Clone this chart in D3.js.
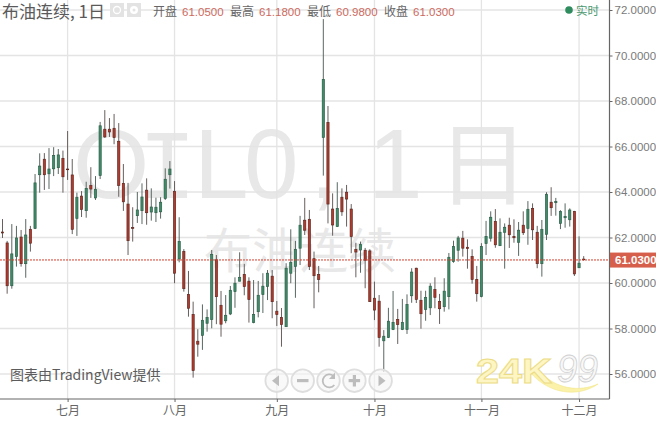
<!DOCTYPE html>
<html><head><meta charset="utf-8">
<style>
html,body{margin:0;padding:0;background:#fff;overflow:hidden}
svg{display:block}
text{font-family:"Liberation Sans","Noto Sans CJK SC",sans-serif}
</style>
<script src="https://cdnjs.cloudflare.com/ajax/libs/d3/7.8.5/d3.min.js"></script>
</head><body>
<svg id="c" width="656" height="421"></svg>
<script>
const opens=[62.24,61.76,59.88,61.16,62.02,60.85,62.36,62.40,64.76,65.44,64.80,65.02,65.07,65.48,65.01,64.75,62.84,63.82,63.18,64.29,63.74,64.72,66.76,66.76,66.80,66.23,64.38,63.47,62.44,62.96,63.18,64.08,63.12,63.09,63.13,63.71,64.76,64.03,61.06,61.39,59.50,58.62,57.44,57.70,58.23,58.40,61.02,59.02,58.34,58.64,59.62,60.08,60.38,60.08,58.26,58.74,59.49,59.84,60.30,58.76,58.49,58.08,60.43,60.73,61.53,62.76,62.80,61.07,60.38,66.40,67.06,63.25,62.48,63.77,63.99,63.25,61.48,61.45,61.44,61.41,59.33,59.20,57.46,57.60,57.95,58.40,57.95,57.95,59.44,60.65,59.24,58.84,58.91,59.72,59.19,58.96,59.40,60.94,61.44,61.97,61.57,61.17,60.16,59.40,61.73,61.97,62.71,61.64,62.23,62.54,62.05,61.79,62.54,62.40,63.28,62.23,60.85,62.14,63.55,63.53,62.62,62.87,62.78,63.15,60.67,61.05];
const closes=[62.20,59.88,61.28,61.98,60.85,62.11,61.75,64.40,65.14,64.76,65.01,65.61,65.63,64.67,64.98,62.36,63.77,63.23,64.16,64.13,64.12,66.91,66.42,66.64,66.39,64.29,63.57,61.86,62.40,63.21,63.78,63.09,63.34,63.33,63.55,64.56,65.01,60.43,61.83,59.75,58.89,56.15,57.31,58.36,58.49,61.26,59.40,58.19,58.58,59.68,59.99,60.25,59.84,59.27,58.62,59.46,59.86,60.43,59.18,58.61,58.17,60.65,60.91,61.48,62.54,62.32,60.72,60.32,60.15,68.95,63.47,62.55,63.28,63.13,63.69,62.04,61.36,61.70,61.00,59.18,58.81,57.60,57.66,58.32,58.27,58.17,58.27,59.06,60.48,59.28,58.65,59.37,59.86,59.37,58.87,59.64,61.13,61.61,61.98,61.53,61.51,60.15,59.53,61.61,62.05,62.89,61.68,62.23,62.45,62.12,61.99,62.32,62.21,63.24,62.34,60.85,62.36,63.90,63.31,63.59,63.15,62.93,63.21,60.40,60.87,61.03];
const highs=[62.81,61.85,62.59,62.51,62.33,62.81,62.51,64.79,65.70,65.71,65.93,65.97,65.89,65.82,66.68,65.45,63.97,64.04,64.45,65.09,64.70,67.08,67.60,67.25,67.43,67.03,65.23,64.40,63.33,64.00,64.38,64.60,64.16,63.75,63.77,65.04,65.36,64.48,62.89,61.49,60.53,59.18,57.97,59.06,58.84,61.45,61.23,59.65,59.47,59.87,60.25,61.35,60.84,60.25,60.13,60.09,60.43,60.57,60.57,59.21,58.90,60.87,62.36,61.85,62.95,63.74,63.21,61.38,60.75,71.60,67.78,63.94,64.43,64.16,64.31,63.47,61.77,61.82,61.54,61.48,60.06,59.47,57.93,58.91,59.65,58.86,59.30,59.50,60.65,60.67,59.66,59.66,59.99,60.25,59.52,60.21,61.32,61.86,62.07,62.29,61.92,61.48,60.75,61.75,62.73,63.15,63.25,62.84,62.62,62.87,62.80,62.68,63.15,63.60,63.50,62.51,62.77,63.99,64.21,63.74,63.20,63.50,63.28,63.17,62.05,61.18];
const lows=[61.98,59.53,59.75,60.72,60.72,60.23,61.38,62.37,63.97,64.09,64.13,64.70,64.79,63.97,64.53,62.15,62.07,62.90,62.87,63.74,63.65,64.57,66.38,66.42,66.10,63.79,63.17,61.23,61.82,62.64,62.59,62.56,62.74,62.68,62.83,63.65,64.15,59.99,60.91,59.62,58.52,55.84,56.76,57.06,57.86,58.01,58.19,57.64,58.23,58.59,58.91,60.07,59.46,58.26,58.23,58.49,58.68,59.25,58.45,58.11,57.20,58.07,59.99,59.35,60.79,62.11,60.57,58.89,59.59,64.72,62.62,62.08,62.46,62.95,62.48,61.31,60.25,60.45,59.77,59.17,58.37,57.20,56.10,57.58,57.93,57.32,57.93,57.76,59.13,59.12,57.99,58.34,58.59,58.89,58.20,58.74,58.84,60.89,60.94,61.16,60.63,59.97,59.18,59.37,61.23,61.82,61.55,61.63,60.63,61.54,61.77,61.19,62.11,61.68,61.89,60.65,60.28,61.89,62.95,62.96,62.37,62.43,62.48,60.31,60.66,60.98];
const priceTicks=[56,58,60,62,64,66,68,70,72];
const monthLabels=["七月","八月","九月","十月","十一月","十二月"];
const monthBars=[14,37,59,80,103,124];
const lastPrice=61.03;
const headerItems=[["开盘","61.0500"],["最高","61.1800"],["最低","60.9800"],["收盘","61.0300"]];

const svg=d3.select("#c");
const W=609.5,H=399;
const x=d3.scaleLinear().domain([0,opens.length-1]).range([2.5,583.7]);
const y=d3.scaleLinear().domain([56,72]).range([374,10]);
const CJK='"Noto Sans CJK SC","Liberation Sans",sans-serif';

// watermark
const wm=(t,px,fs,fam,py)=>svg.append("text").attr("x",px).attr("y",py).attr("font-size",fs).attr("fill","#e8e8e8").style("font-family",fam).text(t);
wm("O",73,98,'"Liberation Sans"',198);
wm("I",138,98,'"Liberation Mono"',198);
wm("L",194,98,'"Liberation Sans"',198);
wm("0",244,98,'"Liberation Sans"',198);
wm(",",310,98,'"Liberation Sans"',198);
wm("1",368,98,'"Liberation Sans"',198);
wm("日",437,92,CJK,198);
wm("布油连续",204,48,CJK,268);

// grid
const grid=svg.append("g").attr("stroke","#e4e4e4").attr("stroke-width",1.3);
grid.selectAll("line.h").data(priceTicks).join("line").attr("class","h")
  .attr("x1",0).attr("x2",W).attr("y1",d=>y(d)).attr("y2",d=>y(d));
grid.selectAll("line.v").data(monthBars).join("line").attr("class","v")
  .attr("x1",d=>x(d)).attr("x2",d=>x(d)).attr("y1",0).attr("y2",H);

// candles
const idx=d3.range(opens.length);
const color=i=>closes[i]>=opens[i];
const g=svg.append("g");
g.selectAll("line").data(idx).join("line")
  .attr("x1",i=>x(i)).attr("x2",i=>x(i)).attr("y1",i=>y(highs[i])).attr("y2",i=>y(lows[i]))
  .attr("stroke",i=>color(i)?"#50605a":"#5f5654").attr("stroke-width",0.95);
g.selectAll("rect").data(idx).join("rect")
  .attr("x",i=>x(i)-1.1).attr("width",2.2)
  .attr("y",i=>y(Math.max(opens[i],closes[i])))
  .attr("height",i=>Math.max(0.6,Math.abs(y(opens[i])-y(closes[i]))))
  .attr("fill",i=>color(i)?"#3f8c68":"#b5392c")
  .attr("stroke",i=>color(i)?"#2f5f4a":"#5e2a22").attr("stroke-width",0.7);

// last price line
svg.append("line").attr("x1",0).attr("x2",W).attr("y1",y(lastPrice)+0.4).attr("y2",y(lastPrice)+0.4)
  .attr("stroke","#d0402f").attr("stroke-width",1).attr("stroke-dasharray","2,1");

// axes
const yAxis=d3.axisRight(y).tickValues(priceTicks).tickFormat(d3.format(".4f")).tickSize(3).tickPadding(2);
const ya=svg.append("g").attr("transform",`translate(${W},0)`).call(yAxis);
ya.select(".domain").remove();
ya.selectAll("line").attr("stroke","#666");
ya.selectAll("text").attr("fill","#7a7a7a").attr("font-size",11.5).style("font-family",'"Liberation Sans",sans-serif');
const xAxis=d3.axisBottom(x).tickValues(monthBars).tickFormat((d,i)=>monthLabels[i]).tickSize(3).tickPadding(4);
const xa=svg.append("g").attr("transform",`translate(0,${H})`).call(xAxis);
xa.select(".domain").remove();
xa.selectAll("line").attr("stroke","#666");
xa.selectAll("text").attr("fill","#666").attr("font-size",12).style("font-family",CJK);
svg.append("line").attr("x1",0).attr("x2",W).attr("y1",H).attr("y2",H).attr("stroke","#666").attr("stroke-width",1.2);
svg.append("line").attr("x1",W).attr("x2",W).attr("y1",0).attr("y2",H).attr("stroke","#666").attr("stroke-width",1.2);

// price tag
svg.append("rect").attr("x",W+0.5).attr("y",y(lastPrice)-7).attr("width",656-W).attr("height",15).attr("fill","#d65f4c");
svg.append("text").attr("x",W+5.5).attr("y",y(lastPrice)+4.6).attr("fill","#fff").attr("font-size",11.5).attr("font-weight","bold")
  .text(d3.format(".4f")(lastPrice));

// header
svg.append("text").attr("x",2).attr("y",18).attr("font-size",17).attr("fill","#5a5a5a").style("font-family",CJK).text("布油连续, 1日");
[110,127].forEach(a=>svg.append("rect").attr("x",a).attr("y",3).attr("width",14).attr("height",14).attr("fill","#e3e3e3"));
svg.append("circle").attr("cx",117).attr("cy",10).attr("r",3.5).attr("fill","none").attr("stroke","#fff").attr("stroke-width",1.3);
svg.append("circle").attr("cx",134).attr("cy",10).attr("r",4).attr("fill","#fff");
svg.append("circle").attr("cx",134).attr("cy",10).attr("r",1.5).attr("fill","#e3e3e3");
const hx=d3.scaleLinear().domain([0,3]).range([153,384]);
headerItems.forEach((d,i)=>{
  svg.append("text").attr("x",hx(i)).attr("y",16).attr("font-size",12).attr("fill","#666").style("font-family",CJK).text(d[0]);
  svg.append("text").attr("x",hx(i)+29).attr("y",16).attr("font-size",11.5).attr("fill","#cc6a5e").text(d[1]);
});
svg.append("circle").attr("cx",569).attr("cy",10).attr("r",3.8).attr("fill","#2f8c5e");
svg.append("text").attr("x",576).attr("y",14.5).attr("font-size",11.5).attr("fill","#4b9a72").style("font-family",CJK).text("实时");

// credit
svg.append("text").attr("x",10).attr("y",380).attr("font-size",14).attr("fill","#5c5c5c").style("font-family",CJK).text("图表由TradingView提供");

// nav buttons
const nav=[276.7,302.7,328.5,354.4,380.6];
svg.selectAll("circle.nav").data(nav).join("circle").attr("class","nav").attr("cx",d=>d).attr("cy",380.7).attr("r",11.3)
  .attr("fill","rgba(245,245,245,0.6)").attr("stroke","#dedede").attr("stroke-width",1.8);
const ic="#bdbdbd";
svg.append("path").attr("d","M272 380.7l7-5.5v11z").attr("fill",ic);
svg.append("rect").attr("x",297).attr("y",379).attr("width",11.5).attr("height",3.2).attr("fill",ic);
svg.append("path").attr("d","M333.5 376a6.5 6.5 0 1 0 0.8 9").attr("fill","none").attr("stroke",ic).attr("stroke-width",1.8);
svg.append("path").attr("d","M335 372.5v6.5h-6z").attr("fill",ic);
svg.append("rect").attr("x",348.6).attr("y",379).attr("width",11.5).attr("height",3.2).attr("fill",ic);
svg.append("rect").attr("x",352.8).attr("y",375).attr("width",3.2).attr("height",11.5).attr("fill",ic);
svg.append("path").attr("d","M385.5 380.7l-7-5.5v11z").attr("fill",ic);

// logo
svg.append("path").attr("d","M530 372C548 394 578 398 598 384C580 392 556 390 538 370Z").attr("fill","#fbf1a8").attr("stroke","#f2e68a").attr("stroke-width",0.6);
svg.append("text").attr("x",476).attr("y",383).attr("font-size",35).attr("font-weight","bold").attr("fill","#fdf6c4").attr("stroke","#ecdc86").attr("stroke-width",1)
  .attr("textLength",76).attr("lengthAdjust","spacingAndGlyphs").text("24K");
svg.append("text").attr("x",557).attr("y",382).attr("font-size",38).attr("font-style","italic").attr("fill","#f8f8f8").attr("stroke","#cfcfcf").attr("stroke-width",0.8)
  .attr("textLength",41).attr("lengthAdjust","spacingAndGlyphs").text("99");
</script>
</body></html>
